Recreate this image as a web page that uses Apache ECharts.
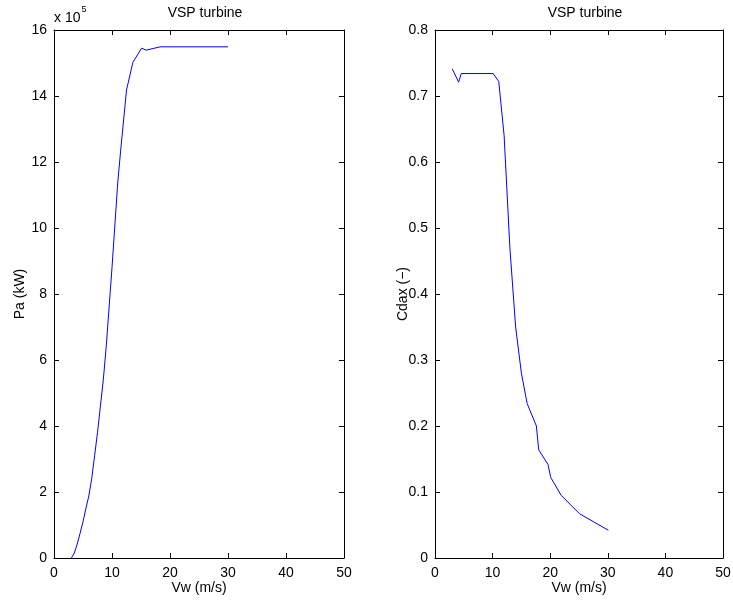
<!DOCTYPE html>
<html><head><meta charset="utf-8">
<script src="https://cdn.jsdelivr.net/npm/echarts@6/dist/echarts.min.js"></script>
<style>html,body{margin:0;padding:0;background:#fff}#c{width:733px;height:600px}</style>
</head><body><div id="c"></div>
<script>
// Left: wind speed (m/s) vs aerodynamic power Pa (kW)
const windPa = [3, 3.5, 4, 4.5, 5, 5.5, 6, 6.5, 7, 7.5, 8, 8.5, 9, 10, 11, 11.5, 12.5, 13.6, 15.1, 15.9, 18.3, 30];
const powerPa = [0, 15000, 42000, 75000, 110000, 150000, 188000, 240000, 310000, 380000, 460000, 540000, 640000, 880000, 1140000, 1236000, 1418000, 1502000, 1545000, 1539000, 1549000, 1549000];
// Right: wind speed vs Cdax
const windCd = [3, 4.1, 4.55, 10.1, 11.07, 12, 13, 14, 15, 16, 17.6, 18, 19.6, 20.1, 21.9, 25.1, 30.1];
const cdax = [0.741, 0.721, 0.734, 0.734, 0.722, 0.64, 0.47, 0.35, 0.28, 0.234, 0.2, 0.164, 0.142, 0.122, 0.095, 0.067, 0.042];
const xTicks = [0, 10, 20, 30, 40, 50];
const titles = ['VSP turbine', 'VSP turbine'];

const FONT = 'Liberation Sans, Arial, sans-serif';
const txt = {color: '#000', fontFamily: FONT, fontSize: 14};
const chart = echarts.init(document.getElementById('c'), null, {renderer: 'canvas'});

function xAx(grid, pos, show) {
  return {type: 'value', gridIndex: grid, position: pos, min: xTicks[0], max: xTicks[xTicks.length - 1], interval: xTicks[1] - xTicks[0],
    axisLine: {show: true, onZero: false, lineStyle: {color: '#000', width: 1}},
    axisTick: {show: true, inside: true, length: 5, lineStyle: {color: '#000'}},
    axisLabel: Object.assign({show: show, margin: 8}, txt),
    splitLine: {show: false},
    name: show ? 'Vw (m/s)' : '', nameLocation: 'middle', nameGap: 23, nameMoveOverlap: false, nameTextStyle: txt};
}
function yAx(grid, pos, show, max, interval, fmt, name, gap) {
  return {type: 'value', gridIndex: grid, position: pos, min: 0, max: max, interval: interval,
    axisLine: {show: true, onZero: false, lineStyle: {color: '#000', width: 1}},
    axisTick: {show: true, inside: true, length: 5, lineStyle: {color: '#000'}},
    axisLabel: Object.assign({show: show, margin: 7, formatter: fmt}, txt),
    splitLine: {show: false},
    name: show ? name : '', nameLocation: 'middle', nameGap: gap, nameMoveOverlap: false, nameTextStyle: txt};
}

chart.setOption({
  animation: false,
  backgroundColor: '#fff',
  title: [
    {text: titles[0], left: 200, top: 1, textAlign: 'center', textStyle: Object.assign({fontWeight: 'normal'}, txt)},
    {text: titles[1], left: 580, top: 1, textAlign: 'center', textStyle: Object.assign({fontWeight: 'normal'}, txt)}
  ],
  grid: [
    {left: 54, top: 30, width: 290, height: 528, outerBoundsMode: 'none', containLabel: false},
    {left: 435, top: 30, width: 288, height: 528, outerBoundsMode: 'none', containLabel: false}
  ],
  xAxis: [xAx(0, 'bottom', true), xAx(0, 'top', false), xAx(1, 'bottom', true), xAx(1, 'top', false)],
  yAxis: [
    yAx(0, 'left', true, 1600000, 200000, v => String(Math.round(v / 100000)), 'Pa (kW)', 27),
    yAx(0, 'right', false, 1600000, 200000, null, '', 0),
    yAx(1, 'left', true, 0.8, 0.1, v => v === 0 ? '0' : v.toFixed(1), 'Cdax (\u2212)', 25),
    yAx(1, 'right', false, 0.8, 0.1, null, '', 0)
  ],
  graphic: [{
    type: 'text', left: 54, top: 5,
    style: {text: '{a|x 10}{s|5}', rich: {a: {fontFamily: FONT, fontSize: 14, fill: '#000', padding: [6, 0, 0, 0]}, s: {fontFamily: FONT, fontSize: 9, fill: '#000', verticalAlign: 'top', padding: [0, 0, 6, 1]}}}
  }],
  series: [
    {type: 'line', xAxisIndex: 0, yAxisIndex: 0, data: windPa.map((x, i) => [x, powerPa[i]]),
     showSymbol: false, lineStyle: {color: '#0000ff', width: 1}, silent: true},
    {type: 'line', xAxisIndex: 2, yAxisIndex: 2, data: windCd.map((x, i) => [x, cdax[i]]),
     showSymbol: false, lineStyle: {color: '#0000ff', width: 1}, silent: true}
  ]
});
</script></body></html>
